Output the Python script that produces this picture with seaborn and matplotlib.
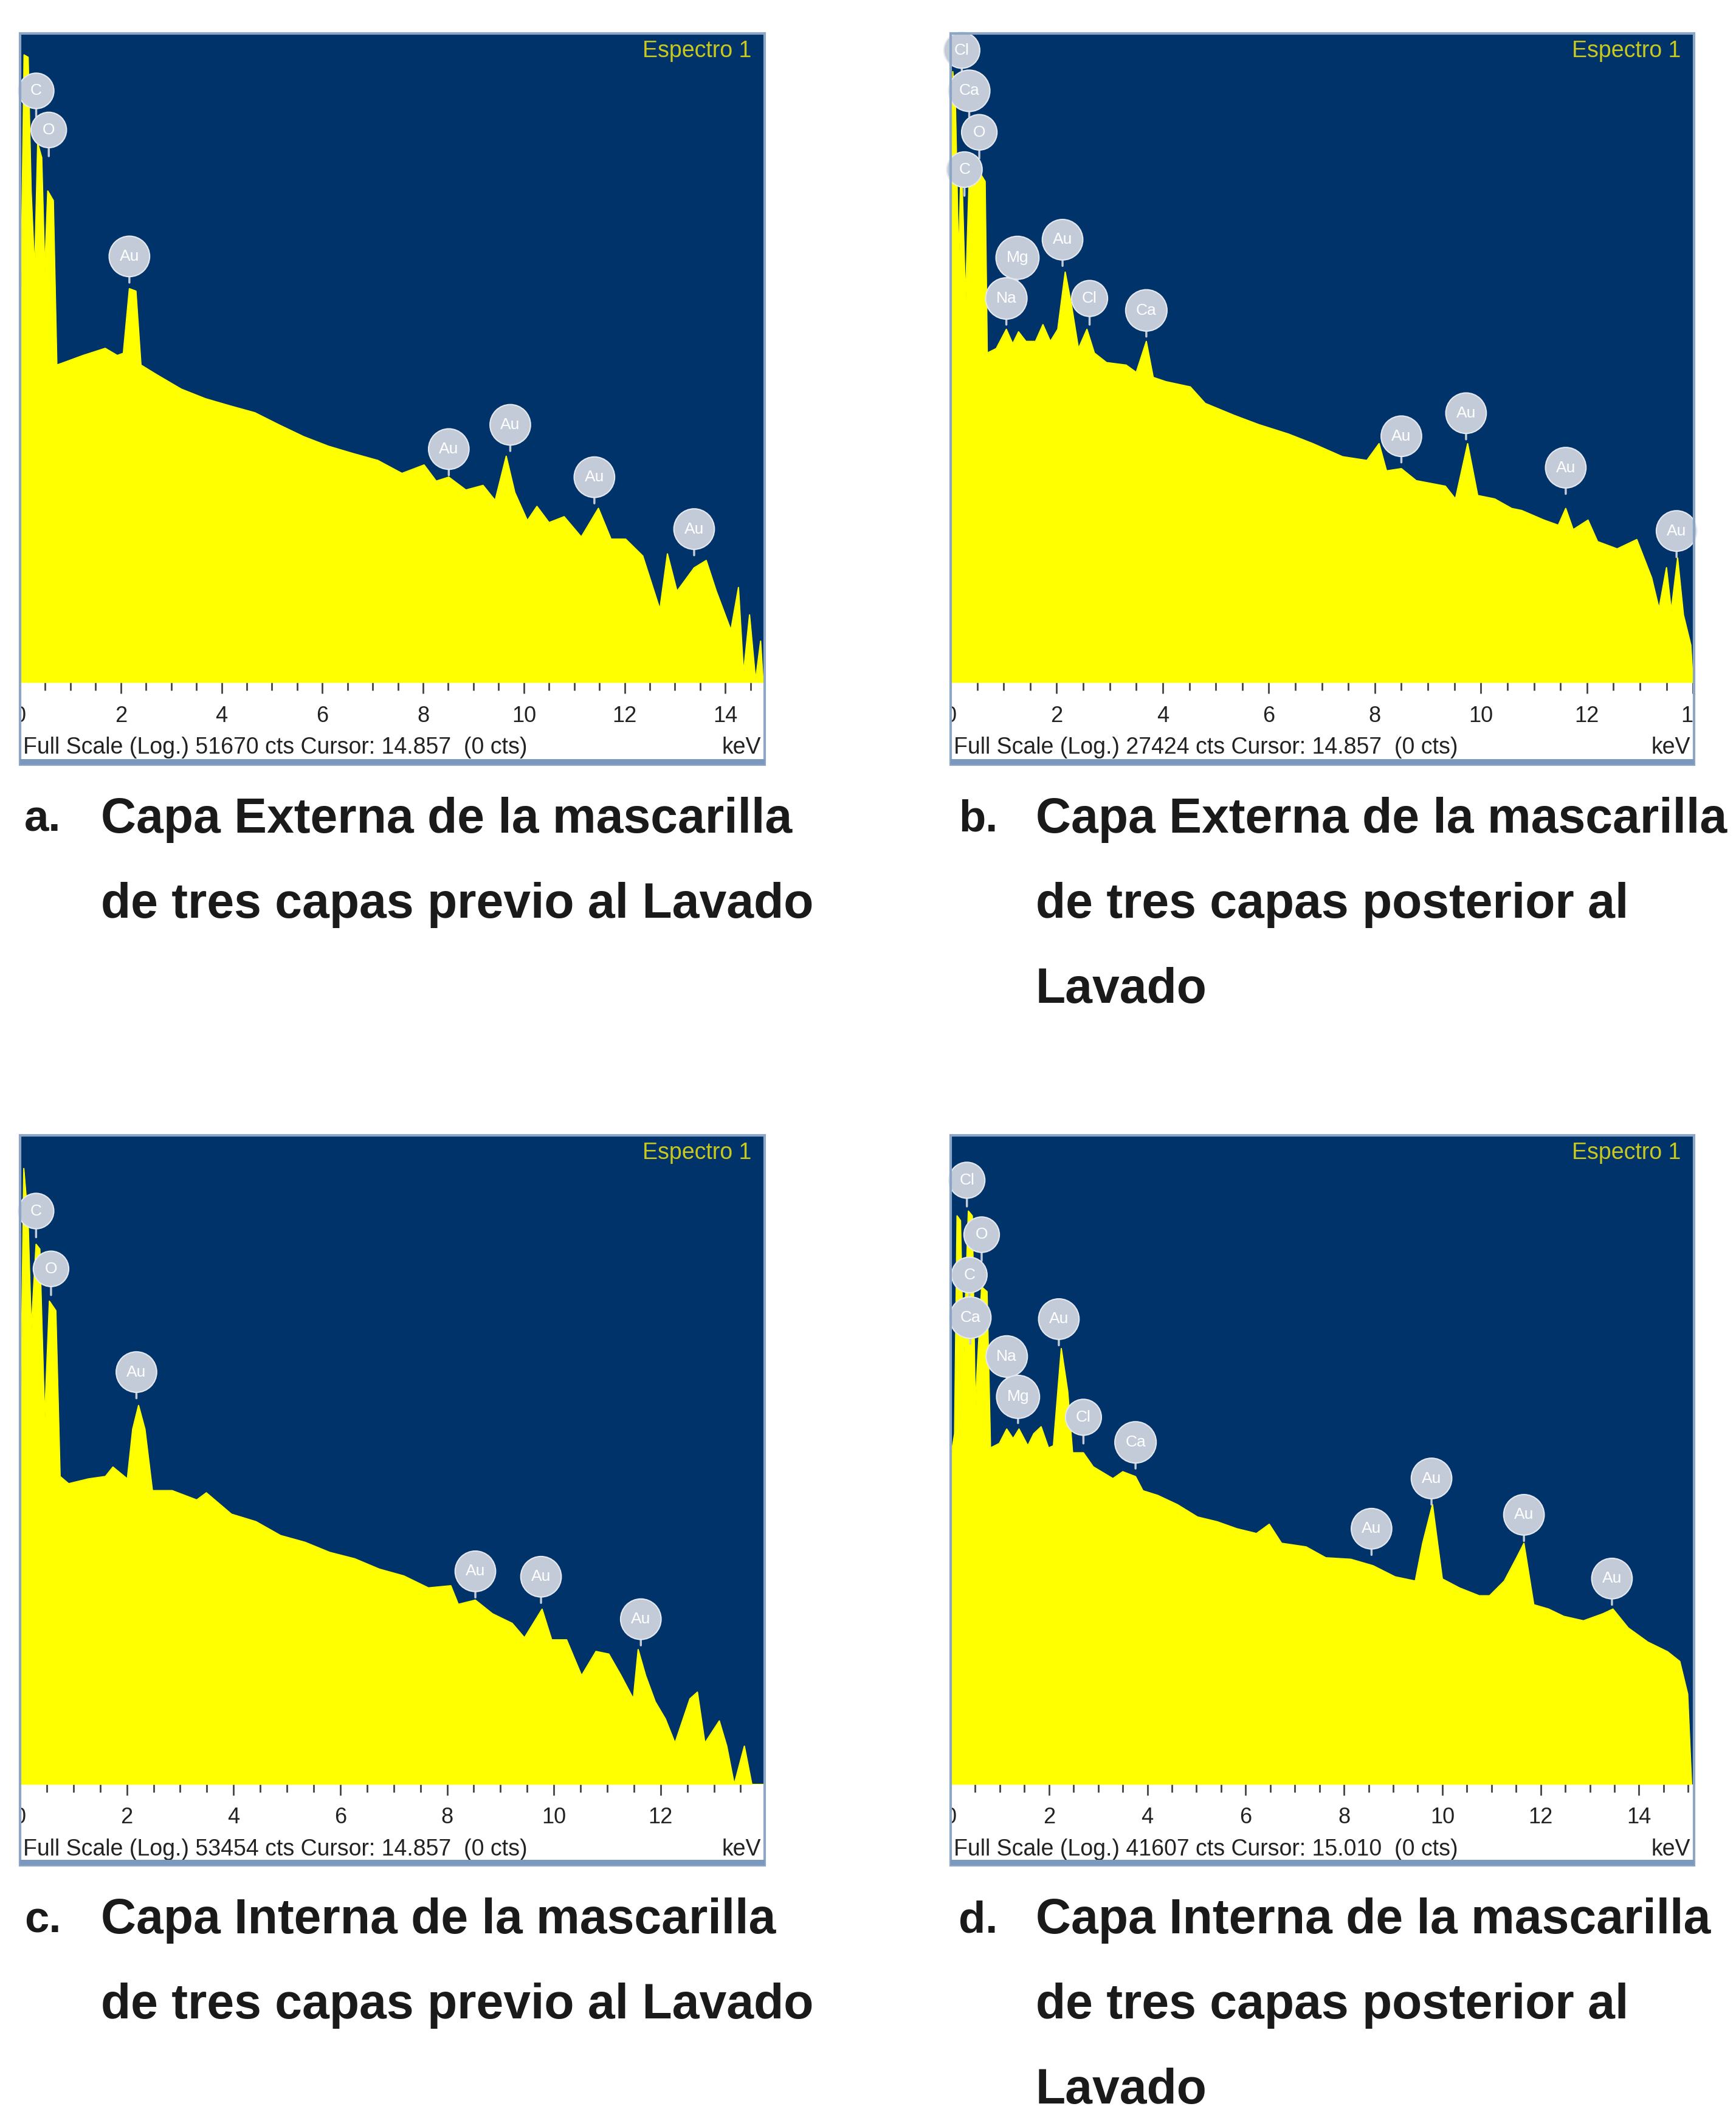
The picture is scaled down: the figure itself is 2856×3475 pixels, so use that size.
import matplotlib
matplotlib.use("Agg")
import matplotlib.pyplot as plt
import seaborn as sns
import pandas as pd
from matplotlib.patches import Rectangle
from matplotlib import font_manager
from matplotlib.ticker import MultipleLocator, FixedLocator, NullLocator

# ---------------- data ----------------
# Panel a: Capa externa, previo al lavado
kev_a = [0.0, 0.08, 0.16, 0.22, 0.29, 0.35, 0.43, 0.49, 0.55, 0.66, 0.73, 0.86, 1.25, 1.69, 1.93,
         2.05, 2.17, 2.30, 2.40, 2.71, 3.2, 3.68, 4.17, 4.66, 5.15, 5.63, 6.12, 6.61, 7.1, 7.58,
         8.02, 8.26, 8.51, 8.85, 9.19, 9.43, 9.65, 9.82, 10.07, 10.26, 10.5, 10.8, 11.14, 11.48,
         11.73, 12.02, 12.36, 12.7, 12.85, 13.04, 13.38, 13.62, 13.82, 14.11, 14.26, 14.36, 14.48,
         14.6, 14.7, 14.75]
cts_a = [227, 36060, 34670, 3710, 955, 8240, 6490, 955, 3710, 3160, 202, 210, 237, 267, 237,
         246, 724, 695, 202, 172, 135, 115, 102, 91, 74, 61, 52, 46, 41, 33,
         38, 29, 31, 25, 27, 21, 44, 24, 15, 19, 14.5, 16, 11.4, 18.4,
         11, 11, 8.3, 3.4, 8.6, 4.6, 6.8, 7.7, 4.6, 2.4, 4.9, 1.17, 3.1,
         1.04, 2.0, 1]
lbl_a = ["C", "O", "Au", "Au", "Au", "Au", "Au"]
lbl_kev_a = [0.32, 0.57, 2.17, 8.51, 9.73, 11.4, 13.38]
lbl_cts_a = [12770, 6640, 802, 32, 48, 20, 8.4]

# Panel b: Capa externa, posterior al lavado
kev_b = [0.0, 0.04, 0.09, 0.15, 0.2, 0.28, 0.35, 0.44, 0.54, 0.65, 0.69, 0.86, 1.05, 1.17, 1.28,
         1.42, 1.6, 1.74, 1.88, 2.02, 2.16, 2.28, 2.41, 2.57, 2.71, 2.94, 3.31, 3.5, 3.69, 3.82,
         4.06, 4.52, 4.8, 5.35, 5.81, 6.37, 6.83, 7.39, 7.85, 8.08, 8.22, 8.5, 8.78, 9.33, 9.52,
         9.75, 9.94, 10.26, 10.58, 10.77, 11.19, 11.46, 11.6, 11.74, 12.02, 12.2, 12.57, 12.94,
         13.22, 13.36, 13.5, 13.59, 13.71, 13.82, 13.96, 14.0]
cts_b = [351, 15030, 8890, 745, 4190, 408, 2880, 2670, 3100, 2670, 179, 192, 260, 207, 250,
         215, 215, 280, 215, 260, 640, 378, 192, 260, 179, 154, 148, 132, 215, 122,
         114, 105, 81, 67, 58, 50, 43, 35, 33, 43, 28, 29, 24, 22, 18,
         43, 19, 18, 15.5, 15, 12.9, 11.9, 15.5, 11.1, 12.9, 9.2, 8.2, 9.5,
         5.2, 3.2, 6.1, 3.1, 7.1, 2.9, 1.8, 1]
lbl_b = ["Cl", "Ca", "O", "C", "Mg", "Na", "Au", "Cl", "Ca", "Au", "Au", "Au", "Au"]
lbl_kev_b = [0.21, 0.35, 0.54, 0.26, 1.26, 1.05, 2.11, 2.62, 3.69, 8.5, 9.72, 11.6, 13.69]
lbl_cts_b = [13930, 7360, 3830, 2130, 531, 280, 706, 280, 232, 32, 46, 19.5, 7.2]

# Panel c: Capa interna, previo al lavado
kev_c = [0.0, 0.07, 0.15, 0.21, 0.3, 0.37, 0.46, 0.55, 0.67, 0.75, 0.91, 1.28, 1.6, 1.74, 2.01,
         2.11, 2.22, 2.34, 2.48, 2.85, 3.31, 3.49, 3.96, 4.42, 4.88, 5.34, 5.8, 6.27, 6.73, 7.19,
         7.65, 8.07, 8.21, 8.53, 8.85, 9.22, 9.45, 9.78, 9.96, 10.24, 10.52, 10.79, 11.03, 11.26,
         11.49, 11.58, 11.72, 11.9, 12.09, 12.27, 12.41, 12.55, 12.69, 12.83, 13.1, 13.24, 13.38,
         13.57, 13.71, 13.95]
cts_c = [240, 30620, 12790, 2055, 8590, 7940, 454, 3310, 2825, 175, 155, 168, 175, 205, 168,
         387, 576, 387, 138, 138, 118, 133, 93, 82, 65, 58, 49, 44, 37, 33,
         27, 28, 20.5, 22, 17.5, 14.9, 11.7, 18.9, 11.3, 11.3, 6.2, 9.3, 8.9, 6.2,
         4.2, 9.6, 6.2, 4.0, 3.0, 2.0, 2.9, 4.2, 4.7, 2.0, 2.9, 1.9, 1,
         1.9, 1, 1]
lbl_c = ["C", "O", "Au", "Au", "Au", "Au"]
lbl_kev_c = [0.3, 0.58, 2.18, 8.53, 9.76, 11.63]
lbl_cts_c = [9680, 3670, 650, 23, 21, 10.3]

# Panel d: Capa interna, posterior al lavado
kev_d = [0.0, 0.08, 0.13, 0.2, 0.26, 0.36, 0.44, 0.5, 0.63, 0.74, 0.81, 0.99, 1.14, 1.27, 1.39,
         1.57, 1.69, 1.84, 1.99, 2.09, 2.25, 2.38, 2.48, 2.7, 2.9, 3.3, 3.5, 3.76, 3.91, 4.21,
         4.61, 5.02, 5.42, 5.82, 6.22, 6.48, 6.73, 7.23, 7.63, 8.14, 8.59, 9.04, 9.45, 9.6, 9.8,
         10.0, 10.35, 10.75, 10.96, 11.26, 11.51, 11.66, 11.86, 12.16, 12.47, 12.87, 13.27, 13.47,
         13.78, 14.18, 14.58, 14.83, 14.99, 15.07]
cts_d = [212, 313, 11120, 10280, 1002, 12020, 11120, 498, 3470, 3210, 248, 267, 338, 289, 338,
         257, 313, 351, 248, 257, 1264, 629, 229, 229, 182, 150, 168, 155, 123, 114,
         98, 80, 74, 66, 61, 71, 52, 49, 41, 40, 36, 30, 28, 52, 98,
         29, 25, 22, 22, 28, 41, 52, 19, 17.7, 15.7, 14.6, 16.4, 17.7,
         13, 10.3, 8.8, 7.5, 4.4, 1]
lbl_d = ["Cl", "O", "C", "Ca", "Na", "Mg", "Au", "Cl", "Ca", "Au", "Au", "Au", "Au"]
lbl_kev_d = [0.33, 0.63, 0.38, 0.4, 1.14, 1.37, 2.2, 2.7, 3.76, 8.56, 9.78, 11.66, 13.45]
lbl_cts_d = [12980, 5320, 2750, 1366, 723, 373, 1334, 267, 177, 43, 98, 54, 19]

full_scale = [51670, 27424, 53454, 41607]
xmax = [14.78, 14.02, 13.95, 15.12]
major_ticks = [[0, 2, 4, 6, 8, 10, 12, 14], [0, 2, 4, 6, 8, 10, 12, 14],
               [0, 2, 4, 6, 8, 10, 12], [0, 2, 4, 6, 8, 10, 12, 14]]
footers = ["Full Scale (Log.) 51670 cts Cursor: 14.857  (0 cts)",
           "Full Scale (Log.) 27424 cts Cursor: 14.857  (0 cts)",
           "Full Scale (Log.) 53454 cts Cursor: 14.857  (0 cts)",
           "Full Scale (Log.) 41607 cts Cursor: 15.010  (0 cts)"]
letters = ["a.", "b.", "c.", "d."]
captions = [["Capa Externa de la mascarilla", "de tres capas previo al Lavado"],
            ["Capa Externa de la mascarilla", "de tres capas posterior al", "Lavado"],
            ["Capa Interna de la mascarilla", "de tres capas previo al Lavado"],
            ["Capa Interna de la mascarilla", "de tres capas posterior al", "Lavado"]]

# ---------------- style ----------------
sns.set_theme(style="white")
names = {f.name for f in font_manager.fontManager.ttflist}
HAS_NARROW = "Liberation Sans Narrow" in names
BASE = "Liberation Sans Narrow" if HAS_NARROW else "Liberation Sans"
plt.rcParams["font.family"] = [BASE, "DejaVu Sans"]
CAP_FS = 66 if HAS_NARROW else 58
SMALL_FS = 31 if HAS_NARROW else 27

NAVY = "#01336b"
YELLOW = "#ffff00"
BADGE = "#c3cbd8"
FRAME = "#8ea6c6"

W, H = 2856, 3475
fig = plt.figure(figsize=(W / 100, H / 100), dpi=100, facecolor="white")

geoms = [dict(x0=33, x1=1258, y0=55, yb=1123, yf=1258, lx=40, tx=166),
         dict(x0=1564, x1=2787, y0=55, yb=1123, yf=1258, lx=1577, tx=1704),
         dict(x0=33, x1=1258, y0=1868, yb=2936, yf=3069, lx=40, tx=166),
         dict(x0=1564, x1=2787, y0=1868, yb=2936, yf=3069, lx=1577, tx=1704)]
spectra = [(kev_a, cts_a, lbl_a, lbl_kev_a, lbl_cts_a),
           (kev_b, cts_b, lbl_b, lbl_kev_b, lbl_cts_b),
           (kev_c, cts_c, lbl_c, lbl_kev_c, lbl_cts_c),
           (kev_d, cts_d, lbl_d, lbl_kev_d, lbl_cts_d)]

for i, (g, (kev, cts, lbl, lk, lc)) in enumerate(zip(geoms, spectra)):
    x0, x1, y0, yb, yf = g["x0"], g["x1"], g["y0"], g["yb"], g["yf"]
    ax = fig.add_axes([x0 / W, 1 - yb / H, (x1 - x0) / W, (yb - y0) / H])
    ax.set_facecolor(NAVY)
    df = pd.DataFrame({"keV": kev, "cts": cts})
    ax.fill_between(df["keV"], 1, df["cts"], color=YELLOW, lw=0, zorder=2)
    sns.lineplot(data=df, x="keV", y="cts", ax=ax, color=YELLOW, lw=1.5, zorder=3)
    ax.set_yscale("log")
    ax.set_ylim(1, full_scale[i])
    ax.set_xlim(0, xmax[i])
    ax.set_xlabel("")
    ax.set_ylabel("")
    ax.yaxis.set_major_locator(NullLocator())
    ax.yaxis.set_minor_locator(NullLocator())
    ax.xaxis.set_major_locator(FixedLocator(major_ticks[i]))
    ax.xaxis.set_minor_locator(MultipleLocator(0.5))
    ax.tick_params(axis="x", which="major", direction="out", length=13, width=2,
                   color="#444444", labelsize=SMALL_FS - 1, labelcolor="#222222", pad=14, bottom=True)
    ax.tick_params(axis="x", which="minor", direction="out", length=9, width=2,
                   color="#444444", bottom=True)
    ax.tick_params(axis="y", which="both", left=False, labelleft=False)
    for s in ax.spines.values():
        s.set_visible(False)

    ax.text(0.982, 0.973, "Espectro 1", transform=ax.transAxes, ha="right", va="center",
            color="#c8c81e", fontsize=SMALL_FS)

    for el, k, c in zip(lbl, lk, lc):
        ax.annotate(el, xy=(k, c), xytext=(0, 31), textcoords="offset points",
                    ha="center", va="center", fontsize=19, color="white", zorder=5,
                    bbox=dict(boxstyle="circle,pad=0.65", fc=BADGE, ec="#e6e9ef", lw=1.5),
                    arrowprops=dict(arrowstyle="-", color=BADGE, lw=2.5, shrinkA=0, shrinkB=0))

    # panel frame
    frame = Rectangle((x0 / W, 1 - yf / H), (x1 - x0) / W, (yf - y0) / H,
                      transform=fig.transFigure, fill=False, ec=FRAME, lw=3, zorder=10)
    fig.add_artist(frame)
    fig.add_artist(Rectangle((x0 / W, 1 - yf / H), (x1 - x0) / W, 9 / H,
                             transform=fig.transFigure, fc="#7d98bf", ec="none", zorder=10))
    clip = Rectangle((x0 / W, 1 - yf / H), (x1 - x0) / W, (yf - y0) / H,
                     transform=fig.transFigure, visible=False)
    fig.add_artist(clip)
    for t in ax.xaxis.get_major_ticks():
        t.label1.set_clip_path(clip)

    fig.text((x0 + 5) / W, 1 - (yb + 107) / H, footers[i], ha="left", va="center",
             fontsize=SMALL_FS, color="#222222")
    fig.text((x1 - 6) / W, 1 - (yb + 107) / H, "keV", ha="right", va="center",
             fontsize=SMALL_FS, color="#222222")

    # caption
    fig.text(g["lx"] / W, 1 - (yf + 91) / H, letters[i], ha="left", va="center",
             fontsize=CAP_FS * 0.9, fontweight="bold", color="#1a1a1a")
    for j, line in enumerate(captions[i]):
        fig.text(g["tx"] / W, 1 - (yf + 91 + 140 * j) / H, line, ha="left", va="center",
                 fontsize=CAP_FS, fontweight="bold", color="#1a1a1a")

fig.savefig("out.png", dpi=100, facecolor="white")
